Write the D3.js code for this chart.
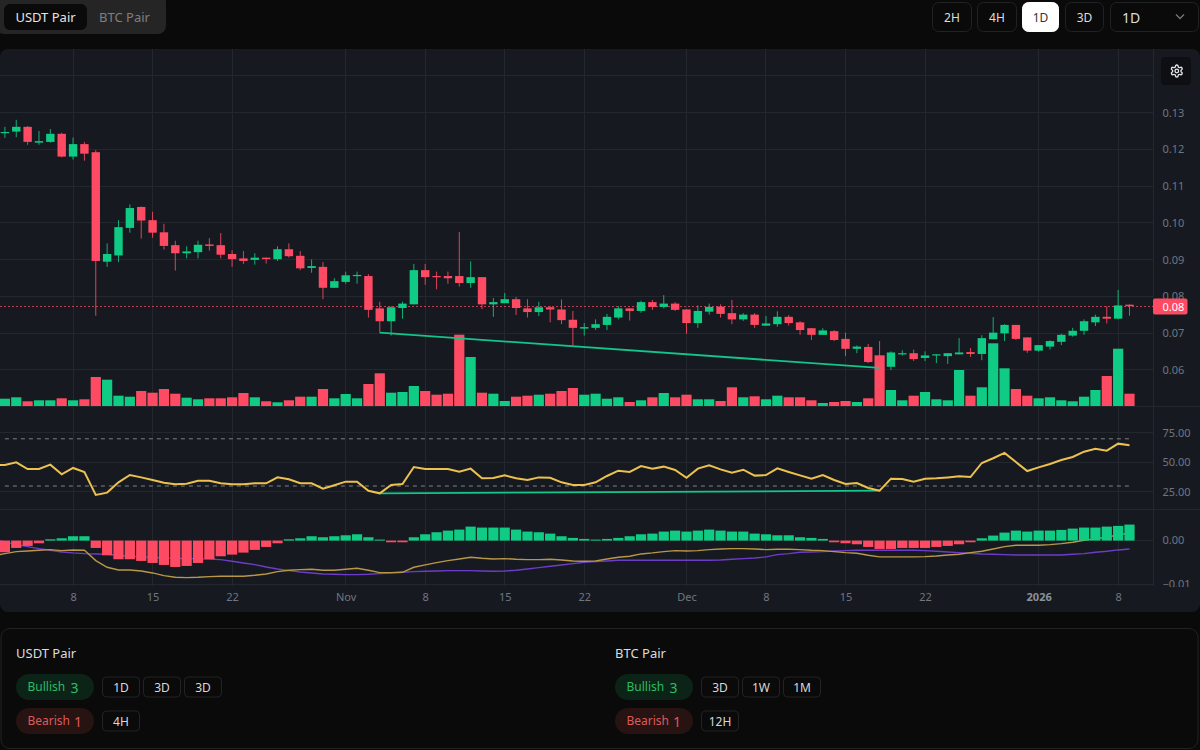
<!DOCTYPE html>
<html><head><meta charset="utf-8">
<script src="https://cdn.jsdelivr.net/npm/d3@7/dist/d3.min.js"></script>
<style>
html,body{margin:0;padding:0;background:#0a0a0a;overflow:hidden}
svg{display:block}
text{font-family:"Noto Sans",sans-serif}
</style></head><body>
<svg id="c" width="1200" height="750"></svg>
<script>
const firstDay = "2025-10-02";
const opens = [.1244,.1248,.1261,.1218,.1220,.1242,.1180,.1214,.1192,.0894,.0911,.0986,.1043,.1007,.0974,.0939,.0917,.0920,.0941,.0939,.0915,.0903,.0899,.0905,.0901,.0928,.0910,.0877,.0880,.0823,.0839,.0855,.0855,.0767,.0732,.0768,.0778,.0871,.0855,.0855,.0855,.0836,.0852,.0778,.0781,.0792,.0767,.0757,.0770,.0764,.0736,.0712,.0714,.0722,.0742,.0767,.0760,.0784,.0771,.0780,.0764,.0727,.0758,.0772,.0754,.0737,.0750,.0720,.0724,.0744,.0729,.0713,.0695,.0705,.0684,.0657,.0662,.0621,.0608,.0642,.0645,.0632,.0639,.0637,.0642,.0648,.0643,.0683,.0699,.0722,.0688,.0652,.0663,.0676,.0693,.0706,.0729,.0744,.0739,.0777];
const highs = [.1261,.1280,.1263,.1250,.1255,.1245,.1232,.1220,.1198,.0944,.1007,.1050,.1044,.1030,.0997,.0951,.0936,.0951,.0958,.0972,.0925,.0923,.0917,.0905,.0936,.0944,.0923,.0900,.0893,.0849,.0867,.0867,.0860,.0785,.0773,.0785,.0888,.0888,.0867,.0867,.0975,.0895,.0852,.0795,.0809,.0798,.0792,.0785,.0773,.0791,.0760,.0727,.0737,.0752,.0773,.0767,.0788,.0790,.0803,.0784,.0765,.0775,.0780,.0778,.0790,.0754,.0754,.0746,.0759,.0749,.0732,.0713,.0713,.0708,.0701,.0666,.0670,.0678,.0650,.0653,.0655,.0650,.0642,.0645,.0686,.0659,.0694,.0743,.0724,.0722,.0688,.0667,.0680,.0698,.0714,.0737,.0750,.0773,.0817,.0778];
const lows = [.1231,.1233,.1212,.1212,.1218,.1178,.1172,.1169,.0747,.0880,.0893,.0973,.0957,.0959,.0927,.0870,.0903,.0903,.0924,.0903,.0880,.0888,.0886,.0889,.0896,.0905,.0871,.0864,.0792,.0823,.0834,.0834,.0742,.0701,.0693,.0739,.0778,.0831,.0819,.0834,.0826,.0823,.0765,.0744,.0781,.0749,.0742,.0746,.0729,.0724,.0667,.0693,.0708,.0708,.0737,.0734,.0755,.0763,.0767,.0760,.0698,.0714,.0750,.0742,.0724,.0733,.0714,.0719,.0717,.0720,.0695,.0681,.0695,.0678,.0637,.0645,.0618,.0605,.0599,.0639,.0624,.0624,.0618,.0616,.0642,.0635,.0626,.0683,.0678,.0681,.0646,.0649,.0655,.0667,.0690,.0695,.0719,.0726,.0737,.0747];
const closes = [.1247,.1261,.1220,.1222,.1242,.1180,.1214,.1188,.0896,.0915,.0988,.1040,.1006,.0973,.0937,.0917,.0922,.0940,.0937,.0913,.0901,.0896,.0905,.0901,.0928,.0909,.0876,.0882,.0823,.0841,.0857,.0858,.0763,.0732,.0770,.0780,.0871,.0852,.0852,.0849,.0836,.0852,.0778,.0784,.0792,.0768,.0757,.0770,.0764,.0735,.0714,.0716,.0724,.0744,.0767,.0760,.0784,.0771,.0780,.0763,.0727,.0760,.0771,.0752,.0737,.0750,.0722,.0726,.0744,.0727,.0708,.0695,.0707,.0681,.0657,.0663,.0621,.0607,.0647,.0645,.0629,.0639,.0642,.0645,.0647,.0643,.0686,.0701,.0722,.0684,.0652,.0667,.0678,.0695,.0706,.0732,.0744,.0739,.0775,.0773];
const volume = [73,87,47,57,57,77,57,67,290,263,103,93,150,133,170,123,83,67,77,77,87,130,87,47,37,57,93,93,170,77,120,77,220,327,133,140,200,150,113,123,713,490,133,123,50,93,103,113,123,150,180,113,123,73,87,40,57,87,130,87,113,67,67,50,187,87,97,67,103,87,87,57,30,40,50,40,77,507,160,57,103,140,67,57,360,103,187,627,377,170,103,77,87,57,47,93,160,300,573,123];
const rsi = [47.8,50.1,44.4,44.4,48.1,39.9,45.3,41.9,22.4,24.4,33.1,39.3,37.3,35.1,32.8,31.4,32,34.5,34.5,32.3,31.4,31.4,32.3,32.3,37.3,35.7,32.3,32.3,27.7,30.6,33.7,33.7,26,23.8,30.9,31.7,46.1,44.4,44.4,44.4,42.2,44.7,36.5,36.8,39,36.5,35.1,37.3,37,33.1,30.9,30.9,33.1,38.5,43,41.9,46.9,44.7,46.4,43.6,37,44.7,47.5,44.1,41.3,43.8,38.8,39.3,45,41.9,39,36.2,39.3,35.1,31.7,32.5,28.3,26,36.2,35.9,33.7,36.2,36.5,37.3,38.2,37.6,49.5,53.5,58,50.3,42.7,45.8,48.6,52,54.6,59.1,61.6,59.9,65.9,64.5];
const macdHist = [-.00265,-.00167,-.00121,-.00061,.0003,.00053,.00099,.00099,-.00167,-.00334,-.00424,-.00424,-.00462,-.00508,-.00553,-.00599,-.00576,-.00508,-.00424,-.00356,-.00318,-.00273,-.00212,-.00144,-.00061,.0003,.00053,.00099,.00076,.00099,.00121,.00144,.00076,.00023,-.00038,-.00038,.00076,.00144,.0019,.00227,.0025,.00318,.00296,.00296,.00296,.0025,.00205,.0019,.00159,.00099,.00061,.00038,.00023,.00038,.00061,.00099,.00144,.00159,.00205,.00227,.00205,.00227,.0025,.00227,.00205,.00205,.00159,.00144,.00121,.00121,.00076,.00061,.00038,-.00038,-.00061,-.00083,-.00144,-.0019,-.0019,-.00167,-.00167,-.00167,-.00144,-.00121,-.00083,-.00038,.00053,.00114,.00182,.00227,.00205,.00227,.00227,.00243,.00273,.00296,.00296,.00318,.00334,.00364];
const macdLine = [-.00295,-.0025,-.00235,-.0022,-.00205,-.00227,-.00212,-.0022,-.00455,-.00606,-.00667,-.00667,-.0069,-.00735,-.00796,-.00834,-.00841,-.00834,-.00819,-.00811,-.00811,-.00811,-.00788,-.00758,-.00705,-.00675,-.00659,-.00652,-.00675,-.00675,-.00652,-.00629,-.00675,-.00728,-.00728,-.0072,-.00606,-.00553,-.005,-.00455,-.00417,-.00379,-.00402,-.00417,-.00409,-.00424,-.00432,-.00432,-.00424,-.0044,-.00462,-.0047,-.00462,-.00417,-.00379,-.00356,-.00303,-.0028,-.0025,-.00227,-.00235,-.00227,-.00205,-.0019,-.00182,-.00182,-.0019,-.00205,-.00197,-.00197,-.00205,-.0022,-.00227,-.0025,-.00273,-.00288,-.00334,-.00371,-.00371,-.00371,-.00371,-.00364,-.00349,-.00326,-.00311,-.00273,-.00243,-.0019,-.00136,-.00106,-.00106,-.00106,-.00091,-.00068,-.00038,.00008,.00038,.00076,.00129,.00174];
const macdSignal = [-.0003,-.00091,-.00136,-.00182,-.0022,-.00258,-.0028,-.00296,-.00303,-.00311,-.00334,-.00356,-.00371,-.00379,-.00394,-.00402,-.00409,-.00409,-.00417,-.00432,-.0047,-.00508,-.00546,-.00599,-.00644,-.00682,-.00713,-.00735,-.00758,-.00766,-.00773,-.00773,-.00766,-.0075,-.00735,-.0072,-.00705,-.00697,-.0069,-.00682,-.00682,-.00682,-.0069,-.00697,-.0069,-.00675,-.00644,-.00614,-.00584,-.00553,-.00523,-.00493,-.00478,-.00462,-.00447,-.00447,-.00447,-.00447,-.00447,-.00447,-.00447,-.00447,-.00447,-.0044,-.00424,-.00409,-.00394,-.00371,-.00318,-.00296,-.00265,-.00258,-.0025,-.00235,-.00227,-.0022,-.0022,-.0022,-.0022,-.0022,-.0022,-.00227,-.00243,-.00258,-.00273,-.00288,-.00303,-.00311,-.00318,-.00326,-.00326,-.00326,-.00326,-.00326,-.00311,-.00296,-.00265,-.00243,-.00212,-.0019];
const rsiPrevDay = 47.6, macdLinePrevDay = -.0034, macdSignalPrevDay = .0003;
const priceTicks = [.13,.12,.11,.10,.09,.08,.07,.06];
const priceGrid = [.14,.13,.12,.11,.10,.09,.08,.07,.06,.05];
const rsiTicks = [75,50,25];
const rsiLevels = [70,30];
const macdTicks = [0,-.01];
const timeTicks = ["2025-10-08","2025-10-15","2025-10-22","2025-11-01","2025-11-08","2025-11-15","2025-11-22","2025-12-01","2025-12-08","2025-12-15","2025-12-22","2026-01-01","2026-01-08"];
const timeLabels = ["8","15","22","Nov","8","15","22","Dec","8","15","22","2026","8"];
const priceDivergence = [33,77];
const rsiDivergence = [33,77];
const lastPrice = .0772;
const pairTabs = ["USDT Pair","BTC Pair"];
const intervalButtons = ["2H","4H","1D","3D"];
const usdtBull = ["1D","3D","3D"], usdtBear = ["4H"];
const btcBull = ["3D","1W","1M"], btcBear = ["12H"];

const GREEN="#0fcb84", RED="#ff4a63", PANE="#161a20", GRID="#23272e", AXIS="#6f7680";
const svg=d3.select("#c");
const parse=s=>new Date(s+"T00:00:00Z");
const day=i=>d3.utcDay.offset(parse(firstDay),i);
const dates=opens.map((_,i)=>day(i));
const x=d3.scaleUtc().domain([dates[0],dates[dates.length-1]]).range([4.9,1129.5]);
const yP=d3.scaleLinear().domain([.14,.05]).range([75.75,406.5]);
const yV=d3.scaleLinear().domain([0,1000]).range([406,306]);
const yR=d3.scaleLinear().domain([75,25]).range([432.9,491.9]);
const yM=d3.scaleLinear().domain([0,-.01]).range([540.6,584.6]);
const RIGHT=1153;
const col=i=>closes[i]>=opens[i]?GREEN:RED;
const idx=d3.range(opens.length);
const idxLead=d3.range(-1,opens.length);

function txt(g,t,px,py,o={}){return g.append("text").attr("x",px).attr("y",py).attr("fill",o.fill||"#ddd").attr("font-size",o.size||13).attr("font-weight",o.weight||400).attr("text-anchor",o.anchor||"start").attr("dominant-baseline","central").text(t);}

// page chrome
const header=svg.append("g");
header.append("rect").attr("x",-4).attr("y",-6).attr("width",170).attr("height",40).attr("rx",8).attr("fill","#252525");
header.append("rect").attr("x",4).attr("y",4).attr("width",83).attr("height",26).attr("rx",6).attr("fill","#0a0a0a");
txt(header,pairTabs[0],45.5,17,{anchor:"middle",fill:"#e4e4e4"});
txt(header,pairTabs[1],124.5,17,{anchor:"middle",fill:"#7f7f7f"});
const btnX=[[932,40],[977,40],[1022,37],[1065,39]];
intervalButtons.forEach((b,i)=>{
  const [bx,bw]=btnX[i],active=b==="1D";
  header.append("rect").attr("x",bx+.5).attr("y",2.5).attr("width",bw-1).attr("height",29).attr("rx",6).attr("fill",active?"#fff":"#0a0a0a").attr("stroke",active?"#fff":"#222");
  txt(header,b,bx+bw/2,17,{anchor:"middle",size:12,fill:active?"#333":"#ddd"});
});
header.append("rect").attr("x",1110.5).attr("y",2.5).attr("width",88).attr("height",29).attr("rx",6).attr("fill","#0a0a0a").attr("stroke","#222");
txt(header,"1D",1122,17,{size:14,fill:"#ddd"});
header.append("path").attr("d","M1176 14.5l4 4 4-4").attr("fill","none").attr("stroke","#777").attr("stroke-width",1.3);

// chart card
const card=svg.append("g");
svg.append("clipPath").attr("id","cardclip").append("rect").attr("x",0).attr("y",49).attr("width",1200).attr("height",563);
card.append("rect").attr("x",0).attr("y",49).attr("width",1200).attr("height",563).attr("rx",8).attr("fill",PANE);
const grid=card.append("g").attr("stroke",GRID).attr("stroke-width",1).attr("shape-rendering","crispEdges");
timeTicks.forEach(t=>grid.append("line").attr("x1",x(parse(t))).attr("x2",x(parse(t))).attr("y1",49).attr("y2",586));
priceGrid.forEach(p=>grid.append("line").attr("x1",0).attr("x2",RIGHT).attr("y1",yP(p)).attr("y2",yP(p)));
rsiTicks.forEach(p=>grid.append("line").attr("x1",0).attr("x2",RIGHT).attr("y1",yR(p)).attr("y2",yR(p)));
macdTicks.forEach(p=>grid.append("line").attr("x1",0).attr("x2",RIGHT).attr("y1",yM(p)).attr("y2",yM(p)));
grid.append("line").attr("x1",RIGHT).attr("x2",RIGHT).attr("y1",49).attr("y2",586);
grid.append("line").attr("x1",0).attr("x2",1200).attr("y1",509.5).attr("y2",509.5);
grid.append("line").attr("x1",0).attr("x2",1200).attr("y1",406.5).attr("y2",406.5);

// volume
card.append("g").selectAll("rect").data(idx).join("rect")
  .attr("x",i=>x(dates[i])-5.1).attr("width",10.2).attr("y",i=>yV(volume[i])).attr("height",i=>yV(0)-yV(volume[i]))
  .attr("fill",col);

// last price line
card.append("line").attr("x1",0).attr("x2",RIGHT).attr("y1",yP(lastPrice)).attr("y2",yP(lastPrice))
  .attr("stroke",RED).attr("stroke-opacity",.75).attr("stroke-width",1).attr("stroke-dasharray","2 2");

// candles
const cg=card.append("g");
cg.selectAll("line").data(idx).join("line")
  .attr("x1",i=>x(dates[i])).attr("x2",i=>x(dates[i])).attr("y1",i=>yP(highs[i])).attr("y2",i=>yP(lows[i]))
  .attr("stroke",col).attr("stroke-opacity",.85).attr("stroke-width",1);
cg.selectAll("rect").data(idx).join("rect")
  .attr("x",i=>x(dates[i])-4.2).attr("width",8.4)
  .attr("y",i=>Math.min(yP(opens[i]),yP(closes[i])))
  .attr("height",i=>Math.max(1.2,Math.abs(yP(opens[i])-yP(closes[i])))).attr("fill",col);

// price divergence
const lineP=d3.line().x(i=>x(dates[i])).y(i=>yP(lows[i]));
card.append("path").attr("d",lineP(priceDivergence)).attr("fill","none").attr("stroke","#12c58a").attr("stroke-width",1.8);

// RSI
rsiLevels.forEach(l=>card.append("line").attr("x1",x(dates[0])).attr("x2",x(dates[99])).attr("y1",yR(l)).attr("y2",yR(l))
  .attr("stroke","#7c8087").attr("stroke-width",1).attr("stroke-dasharray","4 4"));
const rsiAt=i=>i<0?rsiPrevDay:rsi[i];
const lineR=d3.line().x(i=>x(day(i))).y(i=>yR(rsiAt(i)));
card.append("path").attr("d",lineR(rsiDivergence)).attr("fill","none").attr("stroke","#12c58a").attr("stroke-width",1.8);
const clipped=card.append("g").attr("clip-path","url(#cardclip)");
clipped.append("path").attr("d",lineR(idxLead)).attr("fill","none").attr("stroke","#edc14f").attr("stroke-width",2);

// MACD
const lineM=(a,lead)=>d3.line().x(i=>x(day(i))).y(i=>yM(i<0?lead:a[i]));
clipped.append("path").attr("d",lineM(macdSignal,macdSignalPrevDay)(idxLead)).attr("fill","none").attr("stroke","#6d3cc8").attr("stroke-width",1.4);
clipped.append("path").attr("d",lineM(macdLine,macdLinePrevDay)(idxLead)).attr("fill","none").attr("stroke","#b89747").attr("stroke-width",1.4);
card.append("g").selectAll("rect").data(idx).join("rect")
  .attr("x",i=>x(dates[i])-5.1).attr("width",10.2)
  .attr("y",i=>Math.min(yM(0),yM(macdHist[i]))).attr("height",i=>Math.abs(yM(macdHist[i])-yM(0)))
  .attr("fill",i=>macdHist[i]>=0?GREEN:RED);

// axes
function style(g){g.select(".domain").remove();g.selectAll(".tick line").remove();g.selectAll("text").attr("fill",AXIS).attr("font-size",11).attr("font-family",'"Noto Sans",sans-serif');}
card.append("g").attr("transform",`translate(${RIGHT},0)`).call(d3.axisRight(yP).tickValues(priceTicks).tickFormat(d3.format(".2f")).tickSize(0).tickPadding(9.5)).call(style);
card.append("g").attr("transform",`translate(${RIGHT},0)`).call(d3.axisRight(yR).tickValues(rsiTicks).tickFormat(d3.format(".2f")).tickSize(0).tickPadding(9.5)).call(style);
svg.append("clipPath").attr("id","axclip").append("rect").attr("x",RIGHT).attr("y",520).attr("width",47).attr("height",67);
card.append("g").attr("clip-path","url(#axclip)").append("g").attr("transform",`translate(${RIGHT},-0.6)`).call(d3.axisRight(yM).tickValues(macdTicks).tickFormat(d3.format(".2f")).tickSize(0).tickPadding(9.5)).call(style);
const tAxis=card.append("g").attr("transform","translate(0,586)").call(d3.axisBottom(x).tickValues(timeTicks.map(parse)).tickFormat((d,i)=>timeLabels[i]).tickSize(0).tickPadding(7)).call(style);
tAxis.selectAll("text").filter(function(){return d3.select(this).text()==="2026";}).attr("font-weight",700).attr("fill","#8a9099");

// current price tag
card.append("rect").attr("x",RIGHT).attr("y",yP(lastPrice)-8).attr("width",34.5).attr("height",16).attr("rx",2).attr("fill",RED);
txt(card,d3.format(".2f")(lastPrice),RIGHT+9.5,yP(lastPrice),{size:11,fill:"#fff"});

// settings
card.append("rect").attr("x",1161).attr("y",57).attr("width",30).attr("height",28).attr("rx",4).attr("fill","#0d0f13");
const gear=card.append("g").attr("transform","translate(1169.6,63.8) scale(.6)").attr("fill","none").attr("stroke","#e6e6e6").attr("stroke-width",2.2);
gear.append("path").attr("d","M12.22 2h-.44a2 2 0 0 0-2 2v.18a2 2 0 0 1-1 1.73l-.43.25a2 2 0 0 1-2 0l-.15-.08a2 2 0 0 0-2.73.73l-.22.38a2 2 0 0 0 .73 2.73l.15.1a2 2 0 0 1 1 1.72v.51a2 2 0 0 1-1 1.74l-.15.09a2 2 0 0 0-.73 2.73l.22.38a2 2 0 0 0 2.73.73l.15-.08a2 2 0 0 1 2 0l.43.25a2 2 0 0 1 1 1.73V20a2 2 0 0 0 2 2h.44a2 2 0 0 0 2-2v-.18a2 2 0 0 1 1-1.73l.43-.25a2 2 0 0 1 2 0l.15.08a2 2 0 0 0 2.73-.73l.22-.39a2 2 0 0 0-.73-2.73l-.15-.08a2 2 0 0 1-1-1.74v-.5a2 2 0 0 1 1-1.74l.15-.09a2 2 0 0 0 .73-2.73l-.22-.38a2 2 0 0 0-2.73-.73l-.15.08a2 2 0 0 1-2 0l-.43-.25a2 2 0 0 1-1-1.73V4a2 2 0 0 0-2-2z");
gear.append("circle").attr("cx",12).attr("cy",12).attr("r",3);

// bottom panel
const panel=svg.append("g");
panel.append("rect").attr("x",1).attr("y",628.5).attr("width",1197).attr("height",120).attr("rx",9).attr("fill","#0a0a0a").attr("stroke","#222");
function block(px,title,bull,bear){
  txt(panel,title,px,653,{fill:"#dcdcdc"});
  [[674,"#0c2417","#2dbb66","Bullish",bull],[708,"#281313","#dd5a5a","Bearish",bear]].forEach(([py,bg,fg,lab,list])=>{
    panel.append("rect").attr("x",px).attr("y",py).attr("width",78).attr("height",26).attr("rx",13).attr("fill",bg);
    txt(panel,lab,px+11.5,py+12.8,{size:12,fill:fg});
    txt(panel,String(list.length),px+(lab==="Bullish"?54.5:58),py+13,{size:14,fill:fg});
    list.forEach((tag,i)=>{
      const tx=px+86+i*41;
      panel.append("rect").attr("x",tx+.5).attr("y",py+3).attr("width",37).attr("height",20).attr("rx",4).attr("fill","#0a0a0a").attr("stroke","#232323");
      txt(panel,tag,tx+19,py+13,{size:12,anchor:"middle",fill:"#d8d8d8"});
    });
  });
}
block(16,pairTabs[0],usdtBull,usdtBear);
block(615,pairTabs[1],btcBull,btcBear);
</script>
</body></html>
